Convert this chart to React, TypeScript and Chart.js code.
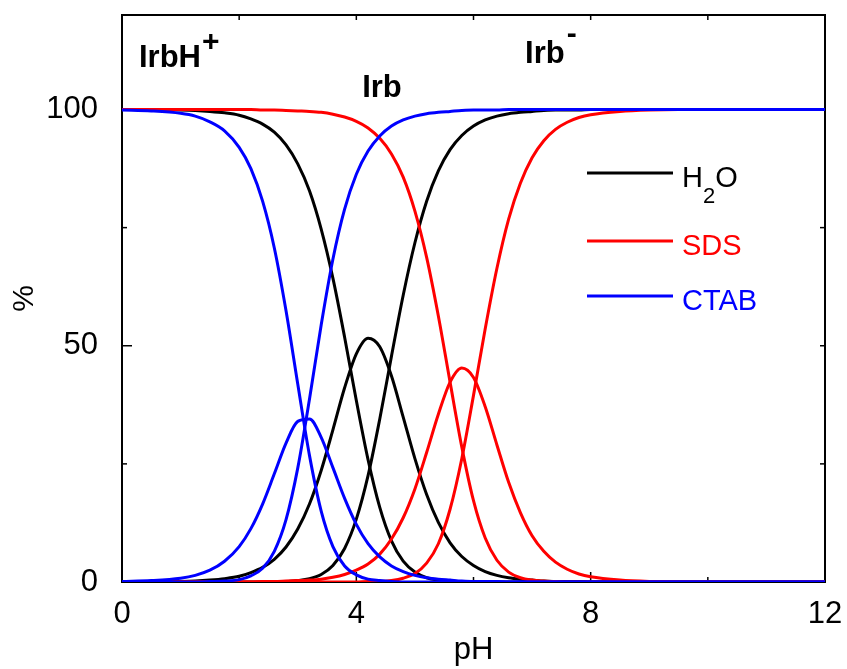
import React, { useEffect, useRef } from "react";
import { Chart, registerables } from "chart.js";

Chart.register(...registerables);

// pH sampling points
const pH = [0, 0.5, 1, 1.25, 1.5, 1.75, 2, 2.2, 2.4, 2.6, 2.8, 3, 3.2, 3.4, 3.6, 3.8, 4, 4.2, 4.4, 4.6, 4.8, 5, 5.2, 5.4, 5.6, 5.8, 6, 6.2, 6.4, 6.6, 6.8, 7, 7.2, 7.4, 7.6, 7.8, 8, 8.5, 9, 9.5, 10, 11, 12];

// CTAB (blue)
const ctabIrbH = [99.9, 99.7, 99.2, 98.6, 97.4, 95.5, 92.0, 87.5, 80.6, 70.7, 57.4, 41.9, 26.8, 15.0, 7.5, 3.4, 1.5, 0.6, 0.3, 0.1, 0, 0, 0, 0, 0, 0, 0, 0, 0, 0, 0, 0, 0, 0, 0, 0, 0, 0, 0, 0, 0, 0, 0];
const ctabIrb = [0.1, 0.3, 0.8, 1.4, 2.5, 4.4, 7.5, 11.3, 16.5, 22.9, 29.4, 34.0, 34.5, 30.6, 24.2, 17.7, 12.2, 8.1, 5.3, 3.4, 2.2, 1.4, 0.9, 0.6, 0.4, 0.2, 0.1, 0.1, 0.1, 0, 0, 0, 0, 0, 0, 0, 0, 0, 0, 0, 0, 0, 0];
const ctabIrbMinus = [0, 0, 0, 0, 0.1, 0.2, 0.5, 1.3, 2.9, 6.5, 13.2, 24.1, 38.7, 54.4, 68.3, 78.9, 86.3, 91.2, 94.4, 96.5, 97.8, 98.6, 99.1, 99.4, 99.6, 99.8, 99.9, 99.9, 99.9, 100, 100, 100, 100, 100, 100, 100, 100, 100, 100, 100, 100, 100, 100];

// H2O (black)
const waterIrbH = [100, 100, 99.9, 99.8, 99.6, 99.3, 98.8, 98.0, 96.9, 95.2, 92.5, 88.5, 82.8, 74.7, 64.3, 51.8, 38.4, 25.9, 15.8, 8.7, 4.4, 2.1, 0.9, 0.4, 0.2, 0.1, 0, 0, 0, 0, 0, 0, 0, 0, 0, 0, 0, 0, 0, 0, 0, 0, 0];
const waterIrb = [0, 0, 0.1, 0.2, 0.4, 0.7, 1.2, 2.0, 3.1, 4.8, 7.4, 11.2, 16.5, 23.6, 32.2, 41.1, 48.3, 51.6, 49.8, 43.6, 34.9, 26.1, 18.5, 12.6, 8.3, 5.4, 3.5, 2.2, 1.4, 0.9, 0.6, 0.4, 0.2, 0.1, 0.1, 0.1, 0, 0, 0, 0, 0, 0, 0];
const waterIrbMinus = [0, 0, 0, 0, 0, 0, 0, 0, 0, 0.1, 0.1, 0.3, 0.7, 1.6, 3.5, 7.1, 13.3, 22.5, 34.5, 47.8, 60.7, 71.8, 80.6, 87.0, 91.5, 94.5, 96.5, 97.8, 98.6, 99.1, 99.4, 99.6, 99.8, 99.9, 99.9, 99.9, 100, 100, 100, 100, 100, 100, 100];

// SDS (red)
const sdsIrbH = [100, 100, 100, 100, 100, 100, 100, 100, 99.9, 99.9, 99.8, 99.7, 99.6, 99.4, 99.0, 98.4, 97.5, 96.1, 93.9, 90.6, 85.7, 78.5, 68.7, 56.3, 42.3, 28.6, 17.2, 9.3, 4.6, 2.1, 0.9, 0.4, 0.2, 0.1, 0, 0, 0, 0, 0, 0, 0, 0, 0];
const sdsIrb = [0, 0, 0, 0, 0, 0, 0, 0, 0.1, 0.1, 0.2, 0.3, 0.4, 0.6, 1.0, 1.6, 2.5, 3.8, 5.9, 9.1, 13.6, 19.7, 27.4, 35.5, 42.3, 45.3, 43.3, 37.1, 29.0, 21.1, 14.7, 9.8, 6.5, 4.2, 2.7, 1.7, 1.1, 0.4, 0.1, 0, 0, 0, 0];
const sdsIrbMinus = [0, 0, 0, 0, 0, 0, 0, 0, 0, 0, 0, 0, 0, 0, 0, 0, 0, 0.1, 0.1, 0.3, 0.8, 1.8, 4.0, 8.1, 15.4, 26.1, 39.5, 53.6, 66.4, 76.8, 84.4, 89.8, 93.4, 95.8, 97.3, 98.3, 98.9, 99.6, 99.9, 100, 100, 100, 100];

const xTickValues = [0, 4, 8, 12];
const yTickValues = [0, 50, 100];
const xMinorTicks = [2, 6, 10];
const yMinorTicks = [25, 75];

const COLORS = { water: "#000000", sds: "#ff0000", ctab: "#0000ff" };
const FONT = "'Liberation Sans', Arial, sans-serif";

function toPoints(values: number[]) {
  return pH.map((x, i) => ({ x, y: values[i] }));
}

const decorPlugin = {
  id: "decor",
  beforeDatasetsDraw(chart: any) {
    const { ctx, chartArea: a, scales } = chart;
    const xs = scales.x;
    const ys = scales.y;
    ctx.save();
    ctx.strokeStyle = "#000";
    ctx.lineWidth = 2;
    ctx.strokeRect(a.left, a.top, a.right - a.left, a.bottom - a.top);
    ctx.lineWidth = 1.5;
    const vline = (px: number, y0: number, y1: number) => {
      ctx.beginPath();
      ctx.moveTo(px, y0);
      ctx.lineTo(px, y1);
      ctx.stroke();
    };
    const hline = (py: number, x0: number, x1: number) => {
      ctx.beginPath();
      ctx.moveTo(x0, py);
      ctx.lineTo(x1, py);
      ctx.stroke();
    };
    xTickValues.forEach((v) => {
      const px = xs.getPixelForValue(v);
      vline(px, a.bottom, a.bottom - 10);
    });
    xMinorTicks.forEach((v) => {
      const px = xs.getPixelForValue(v);
      vline(px, a.bottom, a.bottom - 5);
    });
    [...xTickValues, ...xMinorTicks].forEach((v) => {
      const px = xs.getPixelForValue(v);
      vline(px, a.top, a.top + 5);
    });
    yTickValues.forEach((v) => {
      const py = ys.getPixelForValue(v);
      hline(py, a.left, a.left + 10);
      hline(py, a.right, a.right - 5);
    });
    yMinorTicks.forEach((v) => {
      const py = ys.getPixelForValue(v);
      hline(py, a.left, a.left + 5);
      hline(py, a.right, a.right - 5);
    });
    ctx.restore();
  },
  afterDraw(chart: any) {
    const { ctx, chartArea: a, scales } = chart;
    const xs = scales.x;
    const ys = scales.y;
    ctx.save();
    ctx.fillStyle = "#000";
    ctx.textBaseline = "alphabetic";
    ctx.textAlign = "left";

    // species labels
    ctx.font = `bold 31px ${FONT}`;
    let bx = xs.getPixelForValue(0.29);
    let by = ys.getPixelForValue(109);
    ctx.fillText("IrbH", bx, by);
    let w = ctx.measureText("IrbH").width;
    ctx.font = `bold 30px ${FONT}`;
    ctx.fillText("+", bx + w + 1, by - 16);

    ctx.font = `bold 31px ${FONT}`;
    ctx.fillText("Irb", xs.getPixelForValue(4.1), ys.getPixelForValue(102.6));

    bx = xs.getPixelForValue(6.88);
    by = ys.getPixelForValue(109.8);
    ctx.fillText("Irb", bx, by);
    w = ctx.measureText("Irb").width;
    ctx.font = `bold 30px ${FONT}`;
    ctx.fillText("-", bx + w + 2, by - 20);

    // legend
    const lx0 = a.left + 465;
    const lx1 = a.left + 551;
    const tx = a.left + 560;
    const rows = [
      { name: "H2O", color: COLORS.water, lineY: a.top + 158, textY: a.top + 172 },
      { name: "SDS", color: COLORS.sds, lineY: a.top + 226, textY: a.top + 240 },
      { name: "CTAB", color: COLORS.ctab, lineY: a.top + 281, textY: a.top + 295 },
    ];
    rows.forEach((r) => {
      ctx.strokeStyle = r.color;
      ctx.lineWidth = 3;
      ctx.beginPath();
      ctx.moveTo(lx0, r.lineY);
      ctx.lineTo(lx1, r.lineY);
      ctx.stroke();
      ctx.fillStyle = r.color;
      ctx.font = `29px ${FONT}`;
      if (r.name === "H2O") {
        ctx.fillText("H", tx, r.textY);
        const hw = ctx.measureText("H").width;
        ctx.font = `22px ${FONT}`;
        ctx.fillText("2", tx + hw, r.textY + 16);
        const sw = ctx.measureText("2").width;
        ctx.font = `29px ${FONT}`;
        ctx.fillText("O", tx + hw + sw, r.textY);
      } else {
        ctx.fillText(r.name, tx, r.textY);
      }
    });
    ctx.restore();
  },
};

export default function App() {
  const canvasRef = useRef<HTMLCanvasElement | null>(null);

  useEffect(() => {
    const canvas = canvasRef.current;
    if (!canvas) return;
    const line = (label: string, values: number[], color: string) => ({
      label,
      data: toPoints(values),
      borderColor: color,
      backgroundColor: color,
      borderWidth: 3,
      pointRadius: 0,
      fill: false,
      cubicInterpolationMode: "monotone" as const,
    });
    const chart = new Chart(canvas, {
      type: "line",
      data: {
        datasets: [
          line("CTAB IrbH+", ctabIrbH, COLORS.ctab),
          line("CTAB Irb", ctabIrb, COLORS.ctab),
          line("CTAB Irb-", ctabIrbMinus, COLORS.ctab),
          line("SDS IrbH+", sdsIrbH, COLORS.sds),
          line("SDS Irb", sdsIrb, COLORS.sds),
          line("SDS Irb-", sdsIrbMinus, COLORS.sds),
          line("H2O IrbH+", waterIrbH, COLORS.water),
          line("H2O Irb", waterIrb, COLORS.water),
          line("H2O Irb-", waterIrbMinus, COLORS.water),
        ],
      },
      options: {
        animation: false,
        responsive: false,
        maintainAspectRatio: false,
        layout: { padding: { top: 15, right: 22, left: 0, bottom: 0 } },
        plugins: {
          legend: { display: false },
          tooltip: { enabled: false },
        },
        scales: {
          x: {
            type: "linear",
            min: 0,
            max: 12,
            grid: { display: false },
            border: { display: false },
            afterBuildTicks: (s: any) => {
              s.ticks = xTickValues.map((v) => ({ value: v }));
            },
            afterFit: (s: any) => {
              s.height = 87;
              s.paddingLeft = 0;
              s.paddingRight = 0;
            },
            ticks: {
              font: { family: FONT, size: 31 },
              color: "#000",
              padding: 6,
              maxRotation: 0,
              autoSkip: false,
            },
            title: {
              display: true,
              text: "pH",
              font: { family: FONT, size: 31 },
              color: "#000",
              padding: { top: 0, bottom: 0 },
            },
          },
          y: {
            type: "linear",
            min: 0,
            max: 120,
            grid: { display: false },
            border: { display: false },
            afterBuildTicks: (s: any) => {
              s.ticks = yTickValues.map((v) => ({ value: v }));
            },
            afterFit: (s: any) => {
              s.width = 122;
              s.paddingTop = 0;
              s.paddingBottom = 0;
            },
            ticks: {
              font: { family: FONT, size: 31 },
              color: "#000",
              padding: 16,
            },
            title: {
              display: true,
              text: "%",
              font: { family: FONT, size: 30 },
              color: "#000",
              padding: { top: 7, bottom: 0 },
            },
          },
        },
      },
      plugins: [decorPlugin],
    });
    return () => chart.destroy();
  }, []);

  return (
    <div style={{ position: "absolute", left: 0, top: 0, width: 847, height: 669, background: "#fff" }}>
      <canvas ref={canvasRef} width={847} height={669} style={{ width: 847, height: 669 }} />
    </div>
  );
}
